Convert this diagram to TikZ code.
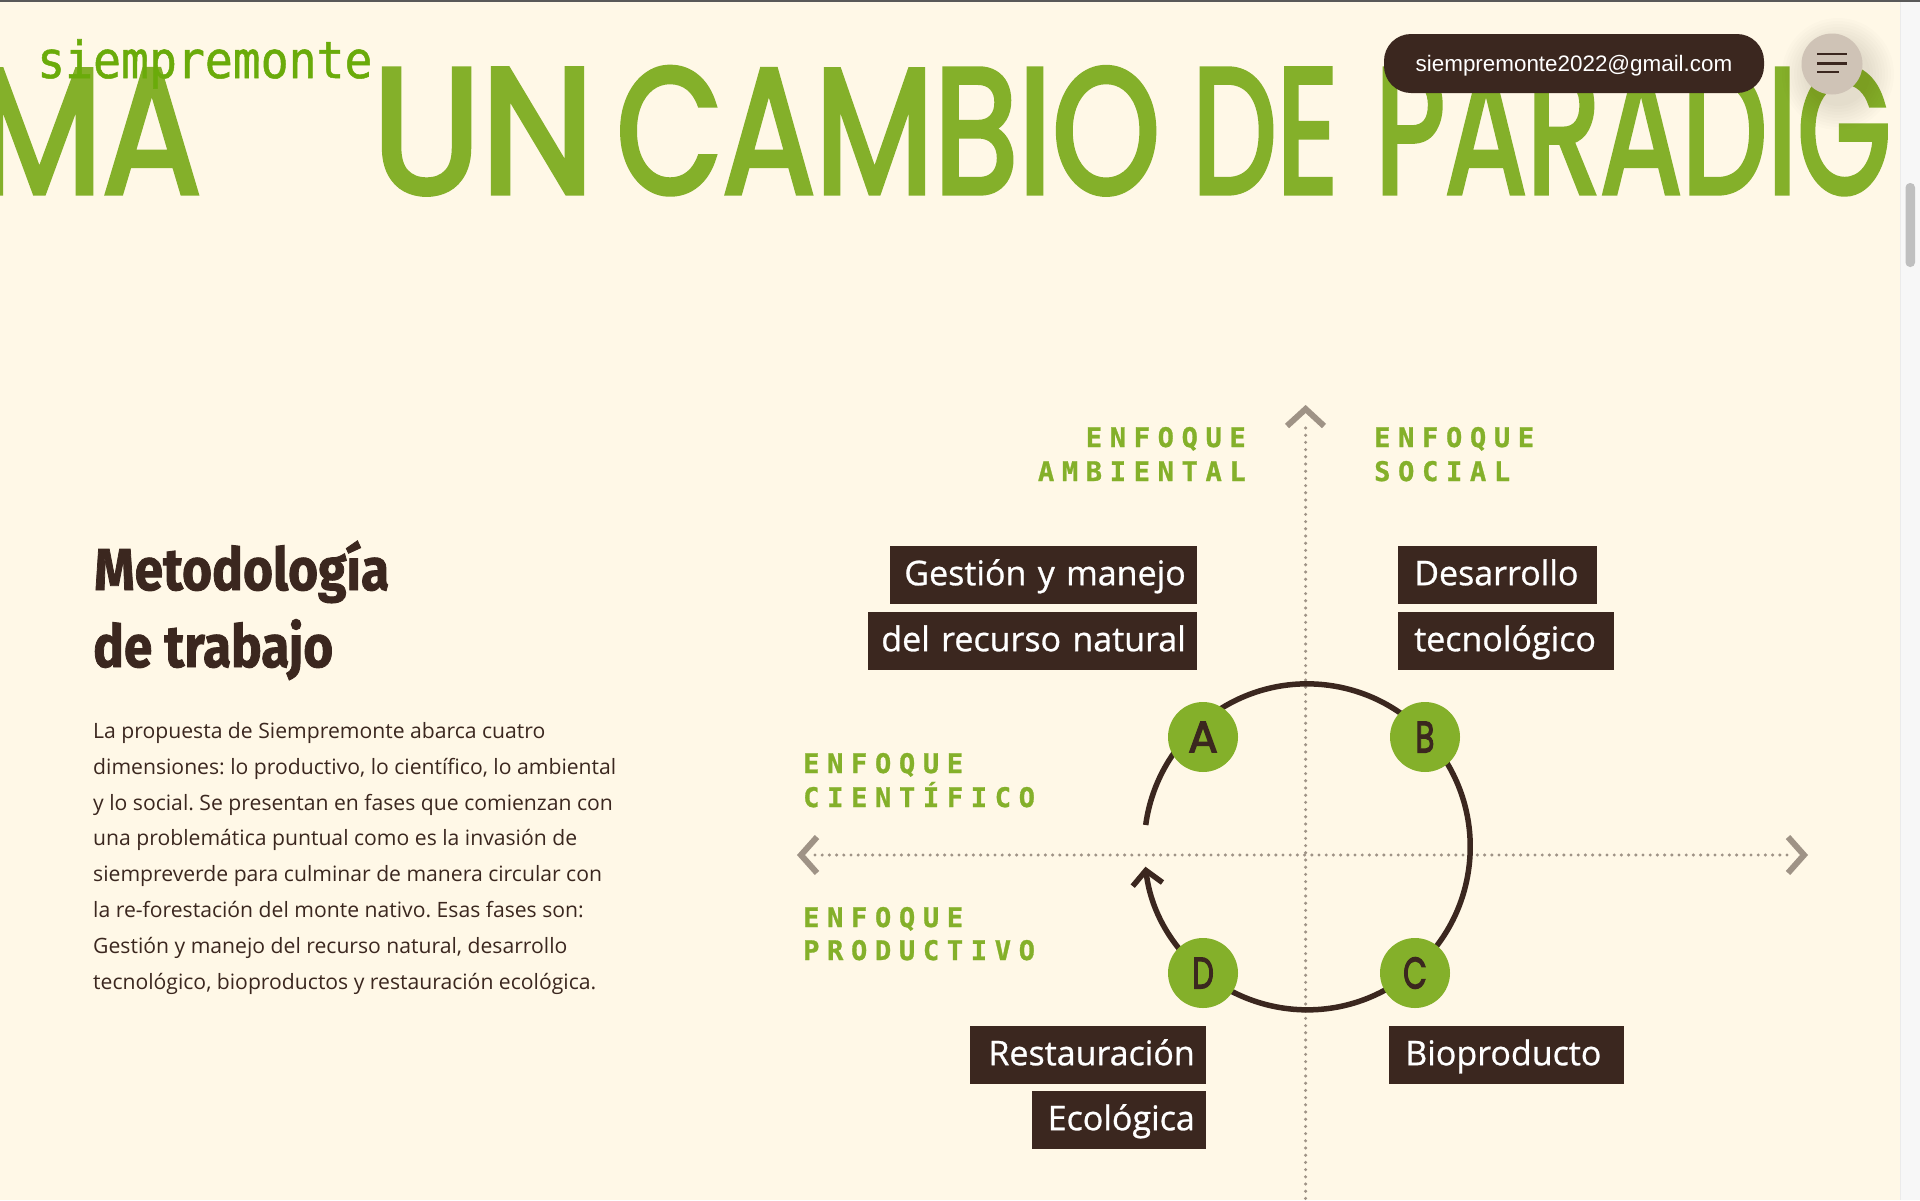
\documentclass[tikz,border=0pt]{standalone}
\usepackage{fontspec}
\usetikzlibrary{arrows.meta}
\setmainfont{Open Sans}
\newfontfamily\titlefont{Poppins}[FakeBold=3]
\newfontfamily\logofont{DejaVu Sans Mono}[FakeBold=1]
\newfontfamily\pillfont{Liberation Sans}
\newfontfamily\headfont{Fira Sans Bold}[FakeBold=1.5]
\newfontfamily\spacedfont{DejaVu Sans Mono Bold}[LetterSpace=28.5,FakeBold=1]
\newfontfamily\letterfont{Poppins}[FakeBold=3]
\newfontfamily\boxfont{Open Sans}[FakeBold=0.8]
\definecolor{cream}{HTML}{FFF8E7}
\definecolor{leaf}{HTML}{84B02A}
\definecolor{logoleaf}{HTML}{6AAB0A}
\definecolor{bark}{HTML}{3B271F}
\definecolor{taupe}{HTML}{9F9386}
\definecolor{menugrey}{HTML}{CFC3B6}
\tikzset{
  every node/.style={inner sep=0pt},
  titleword/.style={anchor=base west,text=leaf,font=\titlefont\fontsize{178}{178}\selectfont},
  axisdots/.style={taupe,line width=3.4pt,line cap=round,dash pattern=on 0pt off 7.2pt},
  axistip/.style={taupe,line width=6pt},
  ringline/.style={bark,line width=5.5pt},
  stepdot/.style={circle,fill=leaf,minimum size=70pt,text=bark,font=\letterfont\fontsize{44}{44}\selectfont},
  focus/.style={text=leaf,font=\spacedfont\fontsize{27}{27}\selectfont},
  darkbox/.style={fill=bark,text=white,font=\boxfont\fontsize{34}{34}\selectfont,text height=29pt,text depth=9pt,inner ysep=10pt},
  leftbox/.style={darkbox,anchor=north east,inner xsep=11pt,text width=#1-22pt,align=right},
  rightbox/.style={darkbox,anchor=north west,inner xsep=16pt,text width=#1-32pt,align=left},
}
\newcommand{\fitword}[2]{\resizebox{#1pt}{\height}{#2}}
\begin{document}
\frenchspacing
\begin{tikzpicture}[x=1pt,y=-1pt]
\useasboundingbox (0,0) rectangle (1920,1200);
\fill[cream] (0,0) rectangle (1920,1200);

\node[titleword] (wordma) at (-24,193) {\fitword{225}{MA}};
\node[titleword] (worduna) at (372,193) {\fitword{222}{UN}};
\node[titleword] (wordcambio) at (616,193) {\fitword{544}{CAMBIO}};
\node[titleword] (wordde) at (1192,193) {\fitword{146}{DE}};
\node[titleword] (wordparadig) at (1375,193) {\fitword{516}{PARADIG}};

\fill[white!97!black] (1900,0) rectangle (1920,1200);
\fill[black!8] (1900,0) rectangle (1901,1200);
\fill[black!65] (0,0) rectangle (1920,1.5);
\fill[black!25,rounded corners=4.5pt] (1905.5,183) rectangle (1915,267);

\node[anchor=base west,text=logoleaf,font=\logofont\fontsize{51}{51}\selectfont] (logo) at (37,78) {\scalebox{0.91}[1]{siempremonte}};

\node[fill=bark,rounded corners=27pt,minimum width=380pt,minimum height=59pt,text=white,font=\pillfont\fontsize{22.4}{23}\selectfont] (mail) at (1574,63.5) {\raisebox{-8pt}[0pt][0pt]{siempremonte2022@gmail.com}};
\foreach \r in {32,35,...,56} \fill[bark,opacity=0.012] (1838,74) circle (\r);
\node[circle,fill=menugrey,minimum size=61pt] (menu) at (1832,64) {};
\draw[bark,line width=2.5pt] (1817,54) -- (1847,54) (1817,63.5) -- (1847,63.5) (1817,72) -- (1839,72);

\node[anchor=base west,text=bark,font=\headfont\fontsize{59}{59}\selectfont] (headone) at (94,590) {\fitword{295}{Metodología}};
\node[anchor=base west,text=bark,font=\headfont\fontsize{59}{59}\selectfont] (headtwo) at (93,667) {\fitword{240}{de trabajo}};

\node[anchor=north west,align=left,text=bark,font=\fontsize{21.15}{35.9}\selectfont] (bodytext) at (93,722) {La propuesta de Siempremonte abarca cuatro\\
dimensiones: lo productivo, lo científico, lo ambiental\\
y lo social. Se presentan en fases que comienzan con\\
una problemática puntual como es la invasión de\\
siempreverde para culminar de manera circular con\\
la re-forestación del monte nativo. Esas fases son:\\
Gestión y manejo del recurso natural, desarrollo\\
tecnológico, bioproductos y restauración ecológica.};

\coordinate (axistop) at (1305.6,409);
\coordinate (axisbottom) at (1305.6,1200);
\coordinate (axisleft) at (801,855);
\coordinate (axisright) at (1804,855);
\draw[axisdots] (1305.6,428) -- (axisbottom);
\draw[axisdots] (815,855) -- (1790,855);
\draw[axistip] (1287,426) -- (axistop) -- (1324,426);
\draw[axistip] (817,837) -- (axisleft) -- (817,873);
\draw[axistip] (1788,837) -- (axisright) -- (1788,873);

\coordinate (ringstart) at (1145.7,825);
\draw[ringline,-{Straight Barb[length=14pt,width=30pt]}] (ringstart) arc[start angle=187.7,end angle=533,radius=163];

\node[stepdot] (stepa) at (1203,737) {A};
\node[stepdot] (stepb) at (1425,737) {\scalebox{0.7}[1]{B}};
\node[stepdot] (stepc) at (1415,973) {\scalebox{0.7}[1]{C}};
\node[stepdot] (stepd) at (1203,973) {\scalebox{0.7}[1]{D}};

\node[focus,anchor=base east] (ambone) at (1246,447) {ENFOQUE};
\node[focus,anchor=base east] (ambtwo) at (1246,481) {AMBIENTAL};
\node[focus,anchor=base west] (socone) at (1374,447) {ENFOQUE};
\node[focus,anchor=base west] (soctwo) at (1374,481) {SOCIAL};
\node[focus,anchor=base west] (cieone) at (803,773) {ENFOQUE};
\node[focus,anchor=base west] (cietwo) at (803,807) {CIENTÍFICO};
\node[focus,anchor=base west] (proone) at (803,927) {ENFOQUE};
\node[focus,anchor=base west] (protwo) at (803,960) {PRODUCTIVO};

\node[leftbox=307pt] (gestion) at (1197,546) {Gestión y manejo};
\node[leftbox=329pt] (recurso) at (1197,612) {del recurso natural};
\node[rightbox=199pt] (desarrollo) at (1398,546) {Desarrollo};
\node[rightbox=216pt] (tecno) at (1398,612) {tecnológico};
\node[leftbox=236pt] (restaura) at (1206,1026) {Restauración};
\node[leftbox=174pt] (ecologica) at (1206,1091) {Ecológica};
\node[rightbox=235pt] (bioprod) at (1389,1026) {Bioproducto};
\end{tikzpicture}
\end{document}
